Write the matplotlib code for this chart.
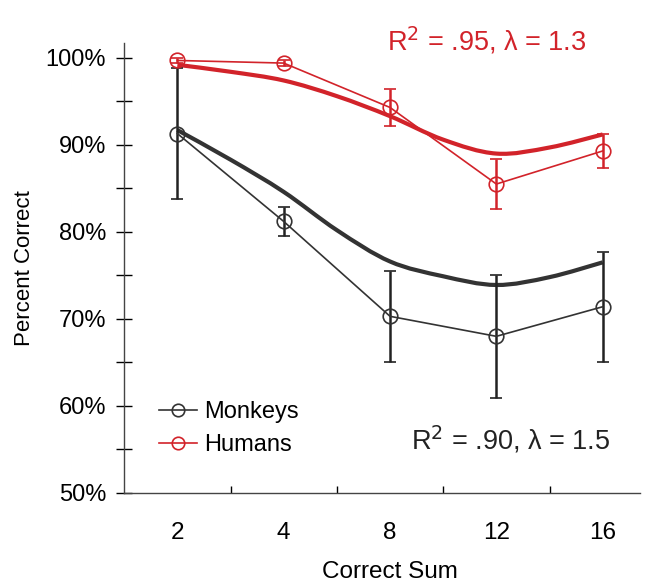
import numpy as np
import matplotlib
matplotlib.use('Agg')
from matplotlib import pyplot as plt
from matplotlib.path import Path
from matplotlib.patches import PathPatch
from matplotlib.lines import Line2D

plt.rcParams['font.family'] = ['Liberation Sans', 'DejaVu Sans']

sums = ['2', '4', '8', '12', '16']

monkeys = [91.3, 81.2, 70.3, 68.0, 71.4]
monkeys_err = [7.5, 1.7, 5.2, 7.1, 6.3]
humans = [99.7, 99.4, 94.3, 85.5, 89.3]
humans_err = [0.3, 0.3, 2.1, 2.9, 2.0]

# model fits, read at each category and halfway between
fit_pos = [1, 1.5, 2, 2.5, 3, 3.5, 4, 4.5, 5]
monkeys_fit = [91.7, 88.3, 84.6, 80.2, 76.6, 74.9, 73.9, 74.8, 76.5]
humans_fit = [99.2, 98.4, 97.4, 95.6, 93.3, 90.6, 89.0, 89.7, 91.2]

red = '#d2232a'
dark = '#333333'


def smooth_path(xs, ys):
    # catmull-rom through the read points, drawn as cubic bezier
    pts = np.column_stack([xs, ys])
    verts = [pts[0]]
    codes = [Path.MOVETO]
    for i in range(len(pts) - 1):
        p0 = pts[max(i - 1, 0)]
        p1 = pts[i]
        p2 = pts[i + 1]
        p3 = pts[min(i + 2, len(pts) - 1)]
        verts += [p1 + (p2 - p0) / 6, p2 - (p3 - p1) / 6, p2]
        codes += [Path.CURVE4] * 3
    return Path(verts, codes)


fig = plt.figure(figsize=(6.47, 5.82), dpi=100)
ax = fig.add_axes([0.192, 0.153, 0.797, 0.773])

x = np.arange(1, len(sums) + 1)

ax.add_patch(PathPatch(smooth_path(fit_pos, humans_fit), fill=False,
                       edgecolor=red, lw=3.0, zorder=2))
ax.add_patch(PathPatch(smooth_path(fit_pos, monkeys_fit), fill=False,
                       edgecolor=dark, lw=3.0, zorder=2))

ax.errorbar(x, monkeys, yerr=monkeys_err, color=dark, lw=1.2, marker='o',
            ms=10.5, mfc='none', mec=dark, mew=1.2, capsize=4.5, capthick=1.8,
            elinewidth=1.8, ecolor='#222222', zorder=3)
ax.errorbar(x, humans, yerr=humans_err, color=red, lw=1.2, marker='o',
            ms=10.5, mfc='none', mec=red, mew=1.2, capsize=4.5, capthick=1.8,
            elinewidth=1.8, ecolor=red, zorder=4)

ax.set_xlim(0.5, 5.35)
ax.set_ylim(50, 101.7)
ax.set_xticks(x)
ax.set_xticklabels(sums)
ax.set_xticks([1.5, 2.5, 3.5, 4.5], minor=True)
ax.tick_params(axis='x', which='major', length=0, labelsize=17.5, pad=21)
ax.tick_params(axis='x', which='minor', direction='in', length=5, width=1)
ax.set_yticks(np.arange(50, 101, 10))
ax.set_yticklabels([f'{v}%' for v in range(50, 101, 10)])
ax.set_yticks(np.arange(55, 100, 10), minor=True)
ax.tick_params(axis='y', which='both', direction='inout', length=12,
               width=1, labelsize=17, pad=7)

for s in ['top', 'right']:
    ax.spines[s].set_visible(False)
for s in ['left', 'bottom']:
    ax.spines[s].set_color('#444444')
    ax.spines[s].set_linewidth(1)

ax.set_xlabel('Correct Sum', fontsize=17.5)
ax.xaxis.set_label_coords(0.515, -0.152)
ax.set_ylabel('Percent Correct', fontsize=16, labelpad=8)

ax.text(4.85, 102.0, r'R$^2$ = .95, λ = 1.3', color=red, fontsize=19.5,
        ha='right', va='center')
ax.text(5.07, 56.1, r'R$^2$ = .90, λ = 1.5', color='#222222', fontsize=19.5,
        ha='right', va='center')

handles = [Line2D([], [], color=dark, lw=1.2, marker='o', ms=9, mfc='none',
                  mew=1.2),
           Line2D([], [], color=red, lw=1.2, marker='o', ms=9, mfc='none',
                  mew=1.2)]
ax.legend(handles, ['Monkeys', 'Humans'], loc='center left',
          bbox_to_anchor=(0.05, 0.143), frameon=False, fontsize=17,
          handlelength=1.6, handletextpad=0.3, labelspacing=0.45,
          borderaxespad=0)

fig.savefig('out.png', dpi=100)
